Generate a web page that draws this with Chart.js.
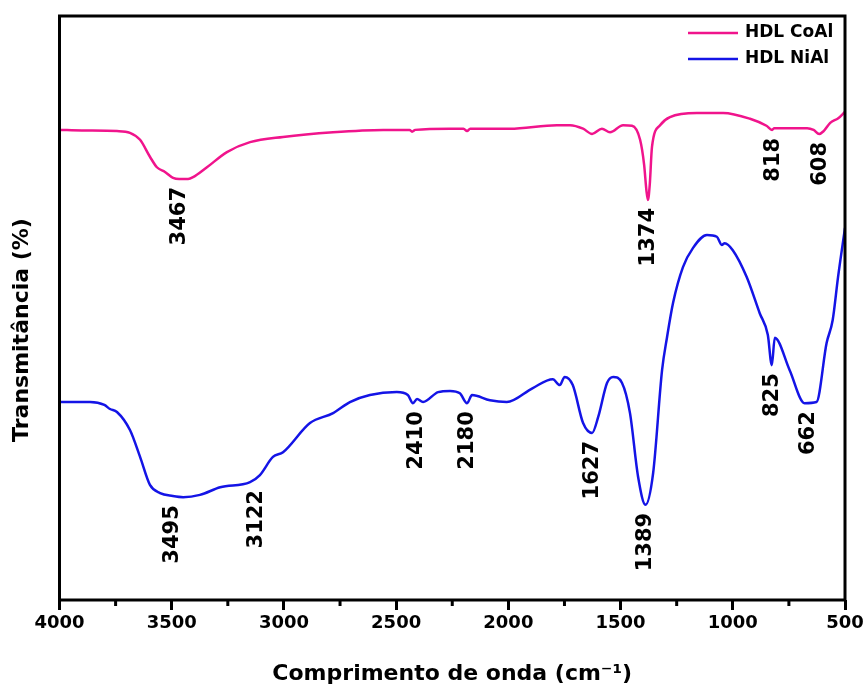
<!DOCTYPE html>
<html><head><meta charset="utf-8">
<script src="https://cdn.jsdelivr.net/npm/chart.js@4.4.1/dist/chart.umd.min.js"></script>
<style>html,body{margin:0;padding:0;background:#fff}</style>
</head><body>
<canvas id="c" width="867" height="691"></canvas>
<script>
// ---- data (wavenumber in cm-1, transmittance in arbitrary %) ----
const seriesNames = ['HDL CoAl', 'HDL NiAl'];

const coWavenumber = [4000,3900,3744,3686,3641,3597,3566,3530,3494,3467,3427,3405,3343,3254,3151,3004,2781,2558,2440,2429,2415,2260,2200,2184,2170,1993,1784,1725,1667,1627,1583,1547,1489,1449,1413,1395,1385,1378,1370,1360,1324,1280,1160,1043,923,850,825,815,669,640,615,595,566,530,500];
const coTransmittance = [80.5,80.4,80.3,80.0,78.8,75.9,74.1,73.3,72.3,72.1,72.1,72.4,74.1,76.7,78.4,79.3,80.1,80.5,80.5,80.2,80.5,80.7,80.7,80.3,80.7,80.7,81.3,81.3,80.7,79.8,80.7,80.1,81.3,81.2,78.8,74.5,70.2,68.5,71.1,77.6,81.3,82.7,83.4,83.4,82.4,81.2,80.5,80.8,80.8,80.5,79.8,80.3,81.7,82.5,83.6];

const niWavenumber = [4000,3864,3800,3775,3744,3686,3641,3597,3552,3495,3449,3374,3284,3151,3107,3049,3004,2884,2781,2706,2617,2497,2448,2425,2407,2380,2313,2260,2216,2184,2162,2082,2007,1891,1802,1771,1749,1713,1667,1627,1600,1560,1533,1494,1458,1422,1389,1355,1315,1293,1266,1222,1177,1115,1071,1049,1036,1000,938,880,844,826,813,747,680,627,582,555,531,500];
const niTransmittance = [33.9,33.9,33.4,32.7,32.2,29.1,24.5,19.7,18.3,17.8,17.6,18.0,19.3,20.2,21.4,24.5,25.3,30.3,32.0,33.9,35.1,35.6,35.1,33.7,34.4,33.9,35.6,35.8,35.4,33.7,35.1,34.2,33.9,36.3,37.8,36.8,38.2,36.8,30.3,28.6,31.3,37.2,38.2,37.2,32.0,21.1,16.3,21.7,39.4,45.0,50.9,57.0,60.3,62.5,62.2,60.8,61.1,59.9,55.3,49.1,45.4,40.2,44.9,39.4,33.7,33.9,44.0,47.9,55.3,63.7];

// peak annotations: text, wavenumber, series index
const peakText = ['3467','1374','818','608','3495','3122','2410','2180','1627','1389','825','662'];
const peakWavenumber = [3467,1374,818,608,3495,3122,2410,2180,1627,1389,825,662];
const peakSeries = [0,0,0,0,1,1,1,1,1,1,1,1];

const xMajorTicks = [4000,3500,3000,2500,2000,1500,1000,500];
const xMinorTicks = [3750,3250,2750,2250,1750,1250,750];

const xTitle = 'Comprimento de onda (cm⁻¹)';
const yTitle = 'Transmitância (%)';

// ---- styling ----
const colors = ['#f0148c', '#1414e6'];
const FONT = 'DejaVu Sans';

const decorPlugin = {
  id: 'decor',
  afterDraw(chart) {
    const ctx = chart.ctx, a = chart.chartArea, xs = chart.scales.x;
    ctx.save();
    // frame
    ctx.strokeStyle = '#000'; ctx.lineWidth = 3;
    ctx.strokeRect(a.left, a.top, a.right - a.left, a.bottom - a.top);
    // minor ticks
    ctx.lineWidth = 3;
    xMinorTicks.forEach(v => {
      const px = xs.getPixelForValue(v);
      ctx.beginPath(); ctx.moveTo(px, a.bottom); ctx.lineTo(px, a.bottom + 6); ctx.stroke();
    });
    // peak labels
    ctx.fillStyle = '#000';
    ctx.font = 'bold 21px "' + FONT + '"';
    ctx.textAlign = 'right'; ctx.textBaseline = 'middle';
    peakText.forEach((t, i) => {
      const meta = chart.getDatasetMeta(peakSeries[i]);
      const wn = peakSeries[i] === 0 ? coWavenumber : niWavenumber;
      let low = -Infinity;
      meta.data.forEach((el, j) => {
        if (Math.abs(wn[j] - peakWavenumber[i]) <= 50) low = Math.max(low, el.y);
      });
      const px = xs.getPixelForValue(peakWavenumber[i]);
      ctx.save();
      ctx.translate(px, low + 8);
      ctx.rotate(-Math.PI / 2);
      ctx.fillText(t, 0, 0);
      ctx.restore();
    });
    // legend
    ctx.font = 'bold 17px "' + FONT + '"';
    ctx.textAlign = 'left';
    chart.data.datasets.forEach((ds, i) => {
      const y = 33 + i * 26;
      ctx.strokeStyle = ds.borderColor; ctx.lineWidth = 2.5;
      ctx.beginPath(); ctx.moveTo(688, y); ctx.lineTo(738, y); ctx.stroke();
      ctx.fillText(ds.label, 745, y);
    });
    // y title
    ctx.font = 'bold 22px "' + FONT + '"';
    ctx.textAlign = 'center';
    ctx.save();
    ctx.translate(22, 330);
    ctx.rotate(-Math.PI / 2);
    ctx.fillText(yTitle, 0, 0);
    ctx.restore();
    ctx.restore();
  }
};

new Chart(document.getElementById('c'), {
  type: 'line',
  data: {
    datasets: [
      { label: seriesNames[0], data: coWavenumber.map((x, i) => ({x, y: coTransmittance[i]})),
        borderColor: colors[0], borderWidth: 2.5, pointRadius: 0, cubicInterpolationMode: 'monotone', fill: false },
      { label: seriesNames[1], data: niWavenumber.map((x, i) => ({x, y: niTransmittance[i]})),
        borderColor: colors[1], borderWidth: 2.5, pointRadius: 0, cubicInterpolationMode: 'monotone', fill: false }
    ]
  },
  options: {
    responsive: false,
    animation: false,
    devicePixelRatio: 1,
    layout: { padding: { left: 0, right: 22, top: 16, bottom: 0 } },
    plugins: { legend: { display: false }, tooltip: { enabled: false } },
    scales: {
      x: {
        type: 'linear', min: 500, max: 4000, reverse: true,
        afterBuildTicks: s => { s.ticks = xMajorTicks.map(v => ({ value: v })); },
        afterFit: s => { s.height = 91; s.paddingLeft = 0; s.paddingRight = 0; },
        grid: { display: true, drawOnChartArea: false, drawTicks: true, tickLength: 10, tickWidth: 3, tickColor: '#000' },
        border: { display: false },
        ticks: { color: '#000', font: { family: FONT, size: 18, weight: 'bold' }, padding: 3, maxRotation: 0, autoSkip: false,
                 callback: v => String(v) },
        title: { display: true, text: xTitle, color: '#000', font: { family: FONT, size: 22, weight: 'bold' }, padding: { top: 0, bottom: 4 } }
      },
      y: {
        min: 0, max: 100,
        afterFit: s => { s.width = 59.5; },
        grid: { display: false },
        border: { display: false },
        ticks: { display: false }
      }
    }
  },
  plugins: [decorPlugin]
});
</script>
</body></html>
